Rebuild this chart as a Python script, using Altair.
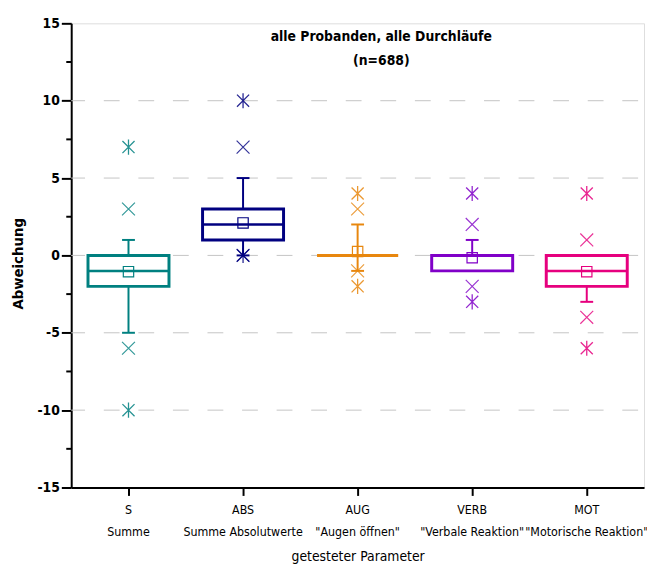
import altair as alt
import pandas as pd

cats = ["S|Summe", "ABS|Summe Absolutwerte", 'AUG|"Augen öffnen"',
        'VERB|"Verbale Reaktion"', 'MOT|"Motorische Reaktion"']
colors = ["#008080", "#000080", "#E8870E", "#8000C8", "#E6007E"]

q1 = [-2, 1, 0, -1, -2]
q3 = [0, 3, 0, 0, 0]
median = [-1, 2, 0, 0, -1]
mean = [-1.05, 2.1, 0.25, -0.15, -1.05]
whisk_hi = [1, 5, 2, 1, 0]
whisk_lo = [-5, 0, -1, -1, -3]
p99 = [3, 7, 3, 2, 1]
p1 = [-6, 0, -1, -2, -4]
vmax = [7, 10, 4, 4, 4]
vmin = [-10, 0, -2, -3, -6]

y_ticks = [-15, -10, -5, 0, 5, 10, 15]
grid_vals = [-10, -5, 0, 5, 10]
minor_vals = [-12.5, -7.5, -2.5, 2.5, 7.5, 12.5]
title_lines = ["alle Probanden, alle Durchläufe", "(n=688)"]

FONT = "DejaVu Sans Condensed, DejaVu Sans, sans-serif"

box = pd.DataFrame({"cat": cats, "q1": q1, "q3": q3, "median": median, "mean": mean,
                    "whi": whisk_hi, "wlo": whisk_lo})
pct = pd.DataFrame({"cat": cats * 2, "v": p99 + p1})
ext = pd.DataFrame({"cat": cats * 2, "v": vmax + vmin})

xenc = alt.X("cat:N", sort=cats, title="getesteter Parameter",
             scale=alt.Scale(paddingInner=0, paddingOuter=0),
             axis=alt.Axis(labelExpr="split(datum.label, '|')", labelAngle=0,
                           labelFont=FONT, labelFontSize=12.5, labelLineHeight=23,
                           labelColor="black", labelPadding=8,
                           tickSize=8, tickWidth=2, tickColor="black",
                           domainWidth=2, domainColor="black",
                           titleFont=FONT, titleFontSize=14, titleFontWeight="normal",
                           titleColor="black", titlePadding=11, grid=False))
yscale = alt.Scale(domain=[-15, 15], nice=False, zero=False)
yaxis = alt.Axis(values=y_ticks, labelExpr="'' + datum.value",
                 labelFont=FONT, labelFontSize=14, labelFontWeight="bold",
                 labelColor="black", tickSize=10, tickWidth=2, tickColor="black",
                 domainWidth=2, domainColor="black", labelPadding=2, grid=False,
                 titleFont=FONT, titleFontSize=15, titleFontWeight="bold", titleColor="black",
                 titleX=-54, titleY=243, titleAngle=-90, titleAlign="center",
                 titleBaseline="middle")
col = alt.Color("cat:N", sort=cats, scale=alt.Scale(domain=cats, range=colors), legend=None)

grid = alt.Chart(pd.DataFrame({"g": grid_vals})).mark_rule(
    color="#c4c4c4", strokeWidth=1, strokeDash=[16, 19], strokeDashOffset=-6
).encode(y=alt.Y("g:Q", scale=yscale, axis=yaxis, title="Abweichung"))

minor = alt.Chart(pd.DataFrame({"m": minor_vals})).mark_rule(
    color="black", strokeWidth=2
).encode(y="m:Q", x=alt.value(-5), x2=alt.value(0))

whisk = alt.Chart(box).mark_rule(strokeWidth=2).encode(
    x=xenc, y="wlo:Q", y2="whi:Q", color=col)
cap_hi = alt.Chart(box).mark_tick(size=13, thickness=2, opacity=1).encode(
    x=xenc, y="whi:Q", color=col)
cap_lo = alt.Chart(box).mark_tick(size=13, thickness=2, opacity=1).encode(
    x=xenc, y="wlo:Q", color=col)
bars = alt.Chart(box).mark_bar(size=82, fill="white", strokeWidth=3).encode(
    x=xenc, y="q1:Q", y2="q3:Q", stroke=alt.Stroke("cat:N", sort=cats,
                                                   scale=alt.Scale(domain=cats, range=colors),
                                                   legend=None))
med = alt.Chart(box).mark_tick(size=82, thickness=2.5, opacity=1).encode(
    x=xenc, y="median:Q", color=col)
mean_pt = alt.Chart(box).mark_point(shape="square", size=110, filled=False, strokeWidth=1.2,
                                    opacity=1).encode(x=xenc, y="mean:Q", color=col)

xshape = "M-1,-1L1,1M-1,1L1,-1"
astshape = "M-1,-1L1,1M-1,1L1,-1M0,-1.25L0,1.25"
pct_pts = alt.Chart(pct).mark_point(shape=xshape, size=170, filled=False, strokeWidth=1.2,
                                    opacity=0.8).encode(x=xenc, y="v:Q", color=col)
ext_pts = alt.Chart(ext).mark_point(shape=astshape, size=150, filled=False, strokeWidth=1.3,
                                    opacity=0.85).encode(x=xenc, y="v:Q", color=col)

tstyle = dict(font=FONT, fontSize=14, fontWeight="bold", color="black", align="center",
              baseline="middle")
title1 = alt.Chart(pd.DataFrame({"t": [title_lines[0]]})).mark_text(**tstyle).encode(
    text="t:N", x=alt.value(314), y=alt.value(14))
title2 = alt.Chart(pd.DataFrame({"t": [title_lines[1]]})).mark_text(**tstyle).encode(
    text="t:N", x=alt.value(314), y=alt.value(38))

chart = alt.layer(grid, minor, whisk, cap_hi, cap_lo, bars, med, mean_pt, pct_pts, ext_pts,
                  title1, title2).properties(
    width=580, height=470,
    autosize=alt.AutoSizeParams(type="none"),
    padding={"left": 64, "top": 12, "right": 3, "bottom": 80},
).configure_view(stroke=None).configure(background="white")

chart.save("out.html", embed_options={"renderer": "svg", "actions": False})
